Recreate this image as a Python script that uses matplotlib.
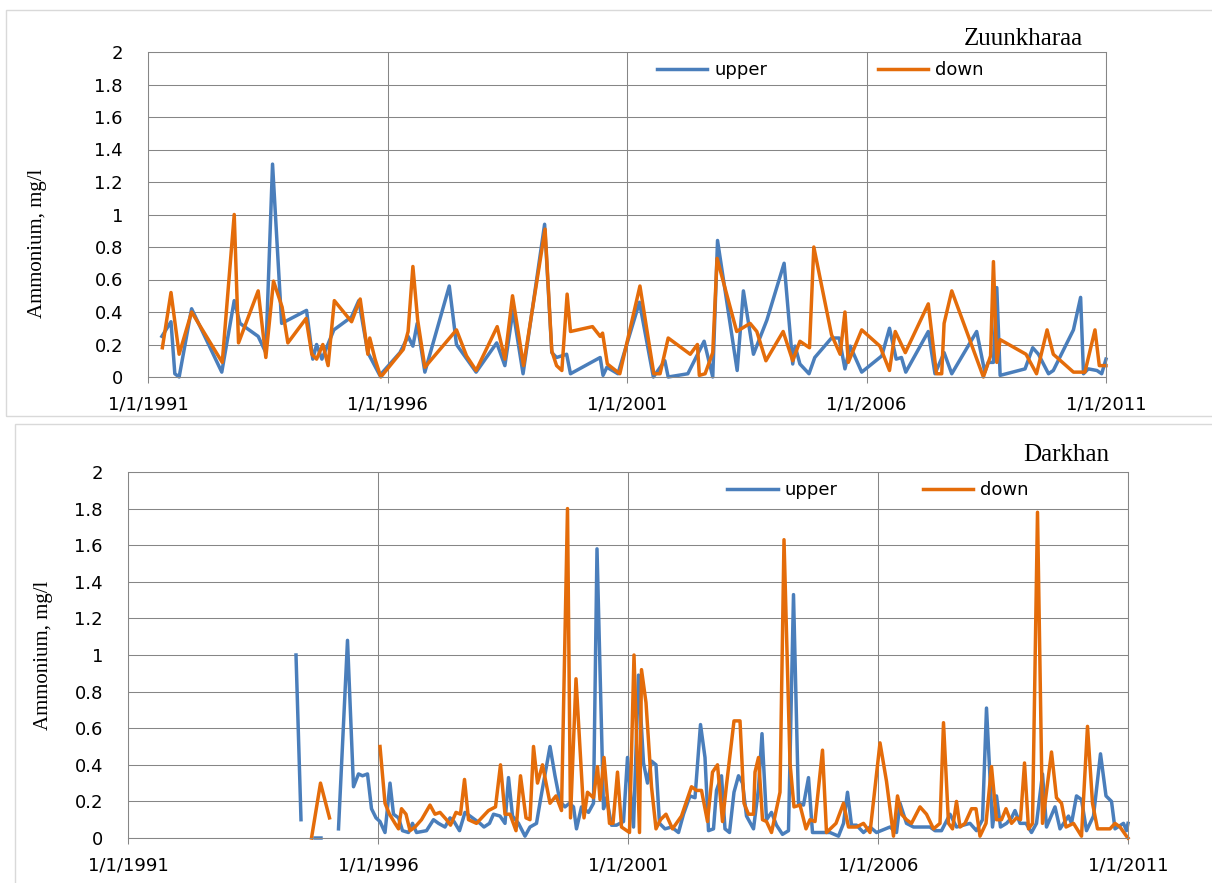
import numpy as np
import matplotlib
matplotlib.use("Agg")
import matplotlib.pyplot as plt
from matplotlib.patches import Rectangle

nan = np.nan

# Zuunkharaa (top panel)
zuun_upper_year = [1991.29, 1991.48, 1991.56, 1991.65, 1991.91, 1992.54, 1992.80, 1992.92, 1993.30, 1993.46,
                   1993.60, 1993.79, 1994.31, 1994.44, 1994.52, 1994.63, 1994.88, 1995.25, 1995.40, 1995.59,
                   1995.84, 1996.26, 1996.43, 1996.53, 1996.62, 1996.78, 1997.29, 1997.44, 1997.85, 1998.28,
                   1998.45, 1998.62, 1998.83, 1999.28, 1999.43, 1999.53, 1999.74, 1999.82, 2000.44, 2000.50,
                   2000.58, 2000.81, 2001.26, 2001.55, 2001.79, 2001.86, 2002.27, 2002.61, 2002.79, 2002.89,
                   2003.30, 2003.43, 2003.64, 2003.92, 2004.28, 2004.46, 2004.51, 2004.61, 2004.80, 2004.92,
                   2005.27, 2005.43, 2005.55, 2005.66, 2005.90, 2006.32, 2006.48, 2006.62, 2006.73, 2006.82,
                   2007.29, 2007.43, 2007.62, 2007.78, 2008.30, 2008.47, 2008.54, 2008.65, 2008.72, 2008.79,
                   2009.31, 2009.47, 2009.59, 2009.80, 2009.90, 2010.32, 2010.47, 2010.53, 2010.63, 2010.81,
                   2010.91, 2011.00]
zuun_upper_val = [0.25, 0.34, 0.02, 0.00, 0.42, 0.03, 0.47, 0.33, 0.25, 0.15,
                  1.31, 0.33, 0.41, 0.11, 0.20, 0.11, 0.29, 0.37, 0.47, 0.15,
                  0.01, 0.15, 0.25, 0.19, 0.33, 0.03, 0.56, 0.20, 0.03, 0.21,
                  0.07, 0.41, 0.02, 0.94, 0.15, 0.12, 0.14, 0.02, 0.12, 0.01,
                  0.06, 0.02, 0.46, 0.00, 0.10, 0.00, 0.02, 0.22, 0.00, 0.84,
                  0.04, 0.53, 0.14, 0.35, 0.70, 0.08, 0.19, 0.08, 0.02, 0.12,
                  0.24, 0.24, 0.05, 0.19, 0.03, 0.13, 0.30, 0.11, 0.12, 0.03,
                  0.28, 0.02, 0.15, 0.02, 0.28, 0.03, 0.09, 0.09, 0.55, 0.01,
                  0.05, 0.18, 0.14, 0.02, 0.04, 0.29, 0.49, 0.02, 0.05, 0.04,
                  0.02, 0.11]

zuun_down_year = [1991.30, 1991.48, 1991.65, 1991.91, 1992.55, 1992.80, 1992.89, 1993.30, 1993.46, 1993.62,
                  1993.80, 1993.92, 1994.30, 1994.42, 1994.52, 1994.65, 1994.76, 1994.89, 1995.25, 1995.43,
                  1995.59, 1995.63, 1995.74, 1995.86, 1996.33, 1996.43, 1996.53, 1996.63, 1996.78, 1997.44,
                  1997.65, 1997.85, 1998.29, 1998.45, 1998.61, 1998.84, 1999.29, 1999.43, 1999.53, 1999.64,
                  1999.75, 1999.82, 2000.28, 2000.44, 2000.49, 2000.59, 2000.85, 2001.27, 2001.56, 2001.69,
                  2001.86, 2002.32, 2002.47, 2002.51, 2002.63, 2002.79, 2002.88, 2003.29, 2003.57, 2003.71,
                  2003.90, 2004.26, 2004.46, 2004.61, 2004.81, 2004.90, 2005.27, 2005.45, 2005.55, 2005.62,
                  2005.90, 2006.28, 2006.48, 2006.60, 2006.81, 2007.29, 2007.46, 2007.57, 2007.62, 2007.78,
                  2008.44, 2008.59, 2008.65, 2008.72, 2008.79, 2009.33, 2009.55, 2009.77, 2009.90, 2010.32,
                  2010.56, 2010.77, 2010.86, 2011.00]
zuun_down_val = [0.18, 0.52, 0.14, 0.40, 0.09, 1.00, 0.21, 0.53, 0.12, 0.59,
                 0.43, 0.21, 0.36, 0.14, 0.11, 0.20, 0.07, 0.47, 0.34, 0.48,
                 0.14, 0.24, 0.11, 0.00, 0.17, 0.28, 0.68, 0.35, 0.06, 0.29,
                 0.13, 0.04, 0.31, 0.11, 0.50, 0.07, 0.91, 0.16, 0.07, 0.04,
                 0.51, 0.28, 0.31, 0.25, 0.27, 0.08, 0.02, 0.56, 0.02, 0.02,
                 0.24, 0.14, 0.20, 0.01, 0.02, 0.15, 0.73, 0.28, 0.33, 0.28,
                 0.10, 0.28, 0.10, 0.22, 0.18, 0.80, 0.26, 0.14, 0.40, 0.09,
                 0.29, 0.19, 0.04, 0.28, 0.15, 0.45, 0.02, 0.02, 0.33, 0.53,
                 0.00, 0.13, 0.71, 0.09, 0.23, 0.14, 0.02, 0.29, 0.14, 0.03,
                 0.03, 0.29, 0.07, 0.07]

# Darkhan (bottom panel); nan marks gaps in the record
dark_upper_year = [1994.36, 1994.46, nan, 1994.74, 1994.86, nan,
                   1995.21, 1995.39, 1995.51, 1995.61, 1995.69, 1995.79, 1995.87, 1995.96, 1996.04, 1996.14,
                   1996.24, 1996.31, 1996.41, 1996.49, 1996.61, 1996.69, 1996.77, 1996.97, 1997.11, 1997.21,
                   1997.34, 1997.44, 1997.52, 1997.63, 1997.74, 1997.84, 1997.94, 1998.04, 1998.12, 1998.23,
                   1998.31, 1998.44, 1998.54, 1998.61, 1998.69, 1998.81, 1998.94, 1999.04, 1999.17, 1999.25,
                   1999.44, 1999.54, 1999.64, 1999.74, 1999.83, 1999.91, 1999.97, 2000.07, 2000.21, 2000.31,
                   2000.38, 2000.51, 2000.57, 2000.67, 2000.77, 2000.91, 2000.99, 2001.11, 2001.21, 2001.31,
                   2001.39, 2001.47, 2001.56, 2001.63, 2001.74, 2001.87, 2002.01, 2002.11, 2002.24, 2002.34,
                   2002.45, 2002.54, 2002.61, 2002.71, 2002.77, 2002.87, 2002.94, 2003.03, 2003.12, 2003.21,
                   2003.29, 2003.37, 2003.51, 2003.61, 2003.68, 2003.77, 2003.87, 2003.97, 2004.09, 2004.21,
                   2004.31, 2004.41, 2004.51, 2004.61, 2004.69, 2004.84, 2005.04, 2005.21, 2005.31, 2005.39,
                   2005.47, 2005.57, 2005.71, 2005.84, 2005.97, 2006.24, 2006.37, 2006.44, 2006.57, 2006.71,
                   2007.04, 2007.14, 2007.27, 2007.44, 2007.57, 2007.84, 2007.97, 2008.09, 2008.17, 2008.29,
                   2008.37, 2008.45, 2008.57, 2008.67, 2008.74, 2008.84, 2008.96, 2009.07, 2009.17, 2009.29,
                   2009.37, 2009.54, 2009.64, 2009.81, 2009.87, 2009.97, 2010.07, 2010.17, 2010.31, 2010.45,
                   2010.56, 2010.67, 2010.74, 2010.91, 2010.97, 2011.00]
dark_upper_val = [1.00, 0.10, nan, 0.00, 0.00, nan,
                  0.05, 1.08, 0.28, 0.35, 0.34, 0.35, 0.16, 0.11, 0.09, 0.03,
                  0.30, 0.13, 0.11, 0.04, 0.03, 0.08, 0.03, 0.04, 0.10, 0.08,
                  0.06, 0.11, 0.09, 0.04, 0.14, 0.12, 0.10, 0.08, 0.06, 0.08,
                  0.13, 0.12, 0.08, 0.33, 0.12, 0.08, 0.01, 0.06, 0.08, 0.21,
                  0.50, 0.34, 0.20, 0.17, 0.19, 0.17, 0.05, 0.17, 0.14, 0.19,
                  1.58, 0.16, 0.22, 0.07, 0.07, 0.09, 0.44, 0.06, 0.89, 0.41,
                  0.30, 0.42, 0.40, 0.08, 0.05, 0.06, 0.03, 0.13, 0.23, 0.22,
                  0.62, 0.44, 0.04, 0.05, 0.26, 0.34, 0.05, 0.03, 0.25, 0.34,
                  0.30, 0.12, 0.05, 0.27, 0.57, 0.10, 0.14, 0.07, 0.02, 0.04,
                  1.33, 0.19, 0.18, 0.33, 0.03, 0.03, 0.03, 0.01, 0.08, 0.25,
                  0.07, 0.07, 0.03, 0.06, 0.03, 0.06, 0.03, 0.19, 0.08, 0.06,
                  0.06, 0.04, 0.04, 0.13, 0.06, 0.08, 0.04, 0.10, 0.71, 0.06,
                  0.23, 0.06, 0.08, 0.11, 0.15, 0.08, 0.08, 0.03, 0.08, 0.35,
                  0.06, 0.17, 0.05, 0.12, 0.08, 0.23, 0.21, 0.04, 0.12, 0.46,
                  0.23, 0.20, 0.05, 0.08, 0.04, 0.08]

dark_down_year = [1994.67, 1994.85, 1995.03, nan,
                  1996.04, 1996.14, 1996.23, 1996.34, 1996.41, 1996.47, 1996.56, 1996.64, 1996.74, 1996.87,
                  1997.04, 1997.14, 1997.24, 1997.37, 1997.45, 1997.56, 1997.65, 1997.73, 1997.81, 1997.97,
                  1998.21, 1998.35, 1998.45, 1998.54, 1998.64, 1998.76, 1998.85, 1998.96, 1999.04, 1999.11,
                  1999.19, 1999.29, 1999.44, 1999.56, 1999.67, 1999.79, 1999.85, 1999.96, 2000.12, 2000.19,
                  2000.31, 2000.39, 2000.44, 2000.52, 2000.63, 2000.70, 2000.79, 2000.87, 2001.03, 2001.12,
                  2001.23, 2001.27, 2001.36, 2001.47, 2001.56, 2001.65, 2001.76, 2001.89, 2002.07, 2002.27,
                  2002.37, 2002.47, 2002.59, 2002.69, 2002.79, 2002.89, 2002.97, 2003.12, 2003.24, 2003.32,
                  2003.41, 2003.51, 2003.54, 2003.61, 2003.69, 2003.77, 2003.87, 2004.04, 2004.12, 2004.24,
                  2004.32, 2004.44, 2004.56, 2004.64, 2004.74, 2004.89, 2004.97, 2005.16, 2005.31, 2005.41,
                  2005.57, 2005.71, 2005.84, 2006.04, 2006.17, 2006.31, 2006.39, 2006.47, 2006.57, 2006.67,
                  2006.84, 2006.97, 2007.11, 2007.24, 2007.31, 2007.41, 2007.49, 2007.57, 2007.64, 2007.74,
                  2007.87, 2007.96, 2008.04, 2008.16, 2008.27, 2008.37, 2008.47, 2008.56, 2008.67, 2008.77,
                  2008.85, 2008.93, 2009.01, 2009.09, 2009.19, 2009.29, 2009.47, 2009.57, 2009.67, 2009.76,
                  2009.91, 2010.07, 2010.19, 2010.29, 2010.39, 2010.64, 2010.74, 2010.84, 2010.97, 2011.00]
dark_down_val = [0.00, 0.30, 0.11, nan,
                 0.50, 0.19, 0.13, 0.08, 0.05, 0.16, 0.13, 0.04, 0.06, 0.10,
                 0.18, 0.13, 0.14, 0.10, 0.07, 0.14, 0.13, 0.32, 0.10, 0.08,
                 0.15, 0.17, 0.40, 0.13, 0.13, 0.04, 0.34, 0.11, 0.10, 0.50,
                 0.30, 0.40, 0.19, 0.23, 0.15, 1.80, 0.11, 0.87, 0.11, 0.25,
                 0.22, 0.39, 0.21, 0.44, 0.08, 0.08, 0.36, 0.06, 0.03, 1.00,
                 0.03, 0.92, 0.74, 0.28, 0.05, 0.10, 0.13, 0.05, 0.12, 0.28,
                 0.26, 0.26, 0.09, 0.36, 0.40, 0.09, 0.29, 0.64, 0.64, 0.19,
                 0.13, 0.13, 0.36, 0.44, 0.10, 0.09, 0.03, 0.25, 1.63, 0.41,
                 0.17, 0.18, 0.05, 0.10, 0.09, 0.48, 0.03, 0.08, 0.19, 0.06,
                 0.06, 0.08, 0.03, 0.52, 0.31, 0.01, 0.23, 0.13, 0.10, 0.08,
                 0.17, 0.13, 0.05, 0.08, 0.63, 0.08, 0.05, 0.20, 0.06, 0.08,
                 0.16, 0.16, 0.01, 0.08, 0.39, 0.10, 0.10, 0.16, 0.08, 0.11,
                 0.10, 0.41, 0.05, 0.08, 1.78, 0.08, 0.47, 0.22, 0.19, 0.06,
                 0.08, 0.01, 0.61, 0.19, 0.05, 0.05, 0.08, 0.06, 0.01, 0.00]

x_ticks = [1991, 1996, 2001, 2006, 2011]
x_tick_labels = ["1/1/1991", "1/1/1996", "1/1/2001", "1/1/2006", "1/1/2011"]
y_ticks = [0, 0.2, 0.4, 0.6, 0.8, 1.0, 1.2, 1.4, 1.6, 1.8, 2.0]
y_tick_labels = ["0", "0.2", "0.4", "0.6", "0.8", "1", "1.2", "1.4", "1.6", "1.8", "2"]

BLUE = "#4A7EBB"
ORANGE = "#E46C0A"
GRID = "#868686"

W, H = 1212, 883
fig = plt.figure(figsize=(W / 100, H / 100), dpi=100)

# light chart-area frames
fig.patches.append(Rectangle((6 / W, 1 - 416 / H), 1.2, (416 - 10) / H, transform=fig.transFigure,
                             fill=False, edgecolor="#D9D9D9", linewidth=1.0))
fig.patches.append(Rectangle((15 / W, -0.1), 1.2, 0.1 + (883 - 424) / H, transform=fig.transFigure,
                             fill=False, edgecolor="#D9D9D9", linewidth=1.0))


def style_axes(ax, title, title_xy, legend_anchor, colspace, ylabel_xy):
    ax.set_xlim(1991, 2011)
    ax.set_ylim(0, 2)
    ax.set_xticks(x_ticks)
    ax.set_xticklabels(x_tick_labels)
    ax.set_yticks(y_ticks)
    ax.set_yticklabels(y_tick_labels)
    ax.grid(True, color=GRID, linewidth=0.75)
    ax.set_axisbelow(True)
    for sp in ax.spines.values():
        sp.set_color(GRID)
        sp.set_linewidth(0.75)
    ax.tick_params(axis="x", direction="out", length=4, width=0.75, color=GRID,
                   labelsize=13, pad=9, labelcolor="black")
    ax.tick_params(axis="y", length=0, labelsize=13, pad=18, labelcolor="black")
    ax.set_ylabel("Ammonium, mg/l", family="Liberation Serif", fontsize=15)
    ax.yaxis.set_label_coords(*ylabel_xy)
    ax.legend(loc="center left", bbox_to_anchor=legend_anchor, ncol=2, frameon=False,
              fontsize=13, handlelength=2.8, handletextpad=0.4, columnspacing=colspace,
              borderpad=0, borderaxespad=0)
    fig.text(title_xy[0] / W, 1 - title_xy[1] / H, title, family="Liberation Serif",
             fontsize=18, ha="right", va="baseline")


ax1 = fig.add_axes([148 / W, 1 - 377 / H, 958 / W, 325 / H])
ax1.plot(zuun_upper_year, zuun_upper_val, color=BLUE, linewidth=2.5, label="upper", clip_on=False)
ax1.plot(zuun_down_year, zuun_down_val, color=ORANGE, linewidth=2.5, label="down", clip_on=False)
style_axes(ax1, "Zuunkharaa", (1083, 45), (0.531, 0.945), 6.1, (-0.105, 0.41))

ax2 = fig.add_axes([128 / W, 1 - 838 / H, 1000 / W, 366 / H])
ax2.plot(dark_upper_year, dark_upper_val, color=BLUE, linewidth=2.5, label="upper", clip_on=False)
ax2.plot(dark_down_year, dark_down_val, color=ORANGE, linewidth=2.5, label="down", clip_on=False)
style_axes(ax2, "Darkhan", (1109, 461), (0.599, 0.951), 4.7, (-0.075, 0.50))

fig.savefig("out.png", dpi=100)
plt.close(fig)
